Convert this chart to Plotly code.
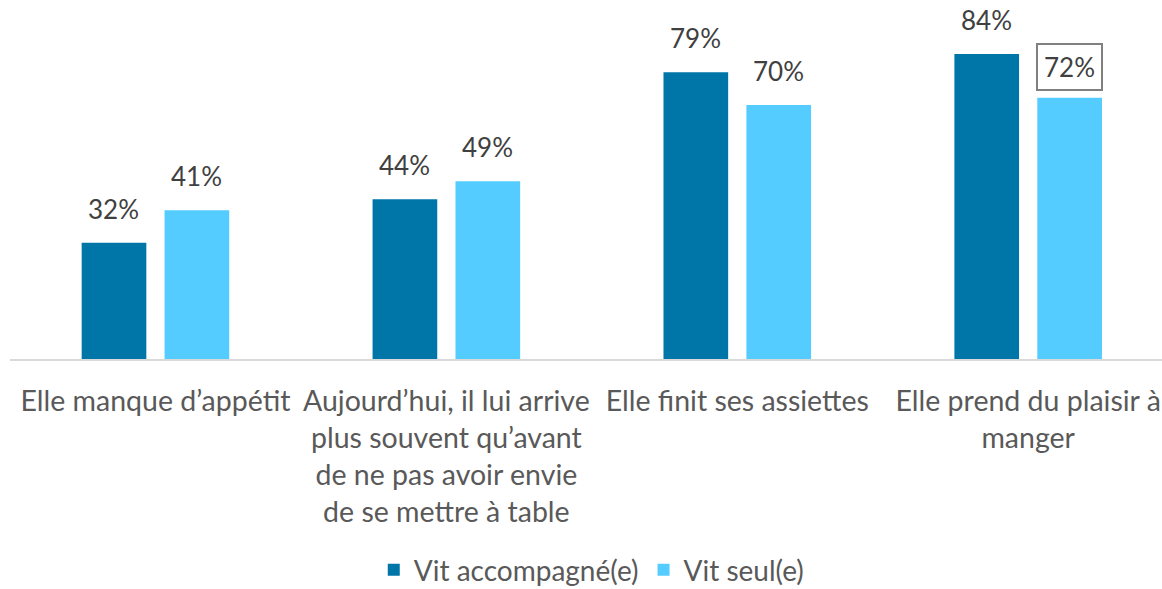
import plotly.graph_objects as go

categories = [
    "Elle manque d’appétit",
    "Aujourd’hui, il lui arrive<br>plus souvent qu’avant<br>de ne pas avoir envie<br>de se mettre à table",
    "Elle finit ses assiettes",
    "Elle prend du plaisir à<br>manger",
]
series_names = ["Vit accompagné(e)", "Vit seul(e)"]
accompagne = [32, 44, 79, 84]
seul = [41, 49, 70, 72]
boxed = [(1, 3)]  # (series index, category index) of labels drawn in a box

colors = ["#0076A8", "#55CCFF"]
font = "Lato, 'Open Sans', sans-serif"

fig = go.Figure()
for name, vals, col in zip(series_names, [accompagne, seul], colors):
    fig.add_trace(go.Bar(x=categories, y=vals, name=name, marker_color=col,
                         marker_line_width=0))

# value labels above bars
for si, vals in enumerate([accompagne, seul]):
    for ci, v in enumerate(vals):
        box = (si, ci) in boxed
        fig.add_annotation(
            x=categories[ci], y=v, text=f"{v}%", showarrow=False,
            xshift=-41.5 if si == 0 else 41.5, yanchor="bottom",
            yshift=7 if box else 12,
            font=dict(family=font, size=26, color="#404040"),
            bordercolor="#808080" if box else None, borderwidth=2 if box else 0,
            borderpad=6,
        )

fig.update_layout(
    width=1162, height=589,
    margin=dict(l=10, r=0, t=0, b=230, autoexpand=False),
    paper_bgcolor="white", plot_bgcolor="white",
    barmode="group", bargap=0.43, bargroupgap=0.22,
    font=dict(family=font, size=28.5, color="#595959"),
    legend=dict(orientation="h", x=0.505, xanchor="center", y=-0.588, yanchor="middle",
                font=dict(size=28, color="#595959"), itemwidth=30),
    showlegend=True,
)
fig.update_xaxes(showline=True, linecolor="#D9D9D9", linewidth=2, ticks="",
                 range=[-0.5, 3.46], ticklabelstandoff=16,
                 tickfont=dict(size=28.5, color="#595959"))
fig.update_yaxes(range=[0, 98.9], visible=False, showgrid=False)

# drop the default page margin so the chart fills the window
fig.write_html("out.html", config={"displayModeBar": False},
               post_script="document.body.style.margin='0';")
